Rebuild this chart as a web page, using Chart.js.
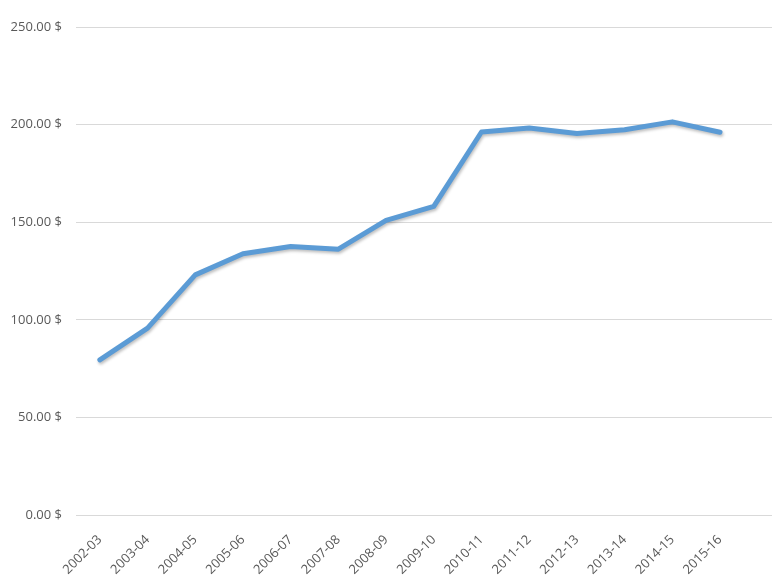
<!DOCTYPE html>
<html>
<head>
<meta charset="utf-8">
<script src="https://cdn.jsdelivr.net/npm/chart.js@4"></script>
<style>
html,body{margin:0;padding:0;background:#fff;}
#wrap{width:772px;height:581px;}
</style>
</head>
<body>
<div id="wrap"><canvas id="c" width="772" height="581"></canvas></div>
<script>
const categories = ["2002-03","2003-04","2004-05","2005-06","2006-07","2007-08","2008-09","2009-10","2010-11","2011-12","2012-13","2013-14","2014-15","2015-16"];
const values = [79.5, 95.7, 123.0, 133.8, 137.6, 136.2, 150.9, 158.1, 196.2, 198.3, 195.4, 197.4, 201.4, 196.1];
const yTicks = [0, 50, 100, 150, 200, 250];

const points = values.map((v, i) => ({x: i, y: v}));
const font = {family: "'Open Sans', 'Liberation Sans', sans-serif", size: 13};

const shadowPlugin = {
  id: 'lineShadow',
  beforeDatasetDraw(chart) {
    const ctx = chart.ctx;
    ctx.save();
    ctx.shadowColor = 'rgba(0,0,0,0.25)';
    ctx.shadowBlur = 3;
    ctx.shadowOffsetX = 1;
    ctx.shadowOffsetY = 2;
  },
  afterDatasetDraw(chart) { chart.ctx.restore(); }
};

new Chart(document.getElementById('c'), {
  type: 'line',
  data: {
    datasets: [{
      data: points,
      borderColor: '#5B9BD5',
      borderWidth: 5,
      pointRadius: 0,
      tension: 0,
      fill: false,
      borderCapStyle: 'round',
      borderJoinStyle: 'round'
    }]
  },
  plugins: [shadowPlugin],
  options: {
    responsive: false,
    animation: false,
    layout: {padding: {top: 27, right: 0, left: 0, bottom: 0}},
    plugins: {legend: {display: false}, tooltip: {enabled: false}},
    scales: {
      x: {
        type: 'linear',
        min: -0.5,
        max: 14.09,
        afterBuildTicks: s => { s.ticks = categories.map((_, i) => ({value: i})); },
        afterFit: s => { s.height = 66; },
        grid: {display: false},
        border: {display: false},
        ticks: {
          autoSkip: false,
          maxRotation: 45,
          minRotation: 45,
          padding: 9,
          color: '#595959',
          font: font,
          callback: v => categories[v] !== undefined ? categories[v] : ''
        }
      },
      y: {
        min: 0,
        max: 250,
        afterBuildTicks: s => { s.ticks = yTicks.map(v => ({value: v})); },
        afterFit: s => { s.width = 76; },
        grid: {color: '#d9d9d9', lineWidth: 1, drawTicks: false},
        border: {display: false},
        ticks: {
          padding: 14,
          color: '#595959',
          font: font,
          callback: v => v.toFixed(2) + ' $'
        }
      }
    }
  }
});
</script>
</body>
</html>
